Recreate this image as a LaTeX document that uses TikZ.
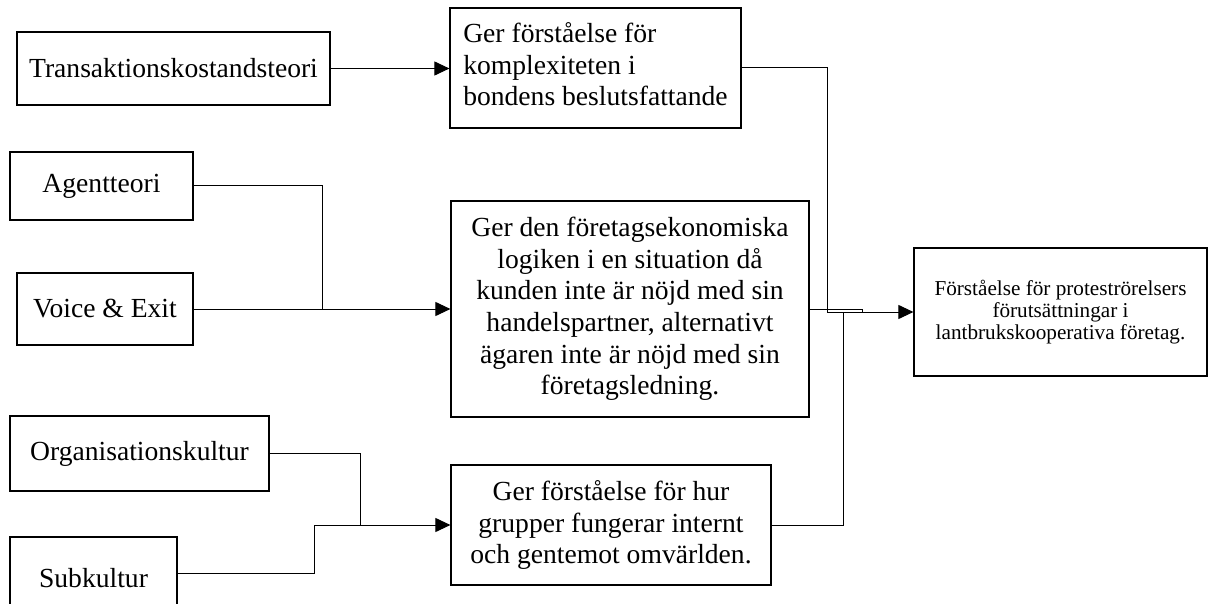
\documentclass[tikz,border=0pt]{standalone}
\usepackage{fontspec}
\setmainfont{Liberation Serif}
\usepackage{tikz}
\usetikzlibrary{arrows.meta}

\begin{document}
\begin{tikzpicture}[x=1pt, y=-1pt, >={Triangle[length=15pt, width=14pt]}, line width=1pt]
\tikzstyle{box}=[draw=black, line width=1.2pt, inner sep=0pt, align=center, font=\fontsize{27.6}{31.7}\selectfont]
\useasboundingbox (0,0) rectangle (1209,604);

\node[box, minimum width=313, minimum height=73] (trans) at (173.5,68.5) {Transaktionskostandsteori};
\node[box, minimum width=183, minimum height=68] (agent) at (101.5,186) {Agentteori};
\node[box, minimum width=176, minimum height=72] (voice) at (105,309) {Voice \& Exit};
\node[box, minimum width=259, minimum height=75] (org) at (139.5,453.5) {Organisationskultur};
\node[box, minimum width=167, minimum height=82] (sub) at (93.5,578) {Subkultur};

\node[box, align=left, minimum width=291, minimum height=120] (komplex) at (595.5,68) {Ger förståelse för\\komplexiteten i\\bondens beslutsfattande\\[-24pt]};
\node[box, minimum width=358, minimum height=216] (logik) at (630,309) {Ger den företagsekonomiska\\logiken i en situation då\\kunden inte är nöjd med sin\\handelspartner, alternativt\\ägaren inte är nöjd med sin\\företagsledning.};
\node[box, minimum width=320, minimum height=120] (grupp) at (611,525) {Ger förståelse för hur\\grupper fungerar internt\\och gentemot omvärlden.};

\node[box, minimum width=293, minimum height=128, font=\fontsize{21.2}{22.2}\selectfont] (protest) at (1060.5,312) {Förståelse för proteströrelsers\\förutsättningar i\\lantbrukskooperativa företag.};

% joints
\coordinate (ja) at (322,309);
\coordinate (jo) at (360,525);
\coordinate (jk) at (827,312);
\coordinate (jg) at (843,312);
\coordinate (jp) at (862,312);

% theories -> contributions
\draw[->] (trans.east) -- (trans.east -| komplex.west);
\draw (agent.east) -| (ja);
\draw[->] (voice.east) -- (logik.west);
\draw (org.east) -| (jo);
\draw ([yshift=5pt]sub.east) -| ([xshift=-46pt]jo) -- (jo);
\draw[->] (jo) -- (grupp.west);

% contributions -> result
\draw (komplex.east) -| (jk) -- (jp);
\draw (logik.east) -| (jp);
\draw (grupp.east) -| (jg);
\draw[->] (jp) -- (protest.west);
\end{tikzpicture}
\end{document}
